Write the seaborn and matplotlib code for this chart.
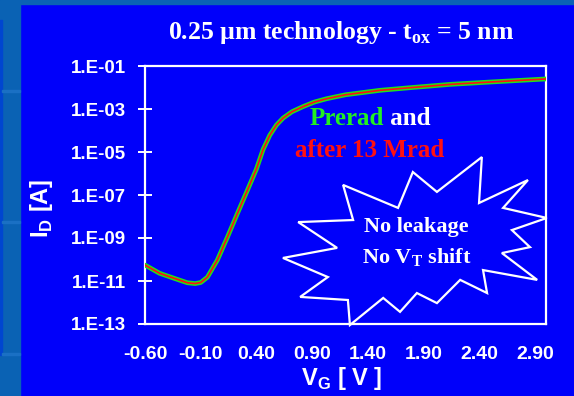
import matplotlib
matplotlib.use("Agg")
import matplotlib.pyplot as plt
import matplotlib.patches as mpatches
import seaborn as sns
import pandas as pd

# Data (gate voltage in V, drain current in A)
vg = [-0.60, -0.47, -0.35, -0.22, -0.15, -0.10, -0.04, 0.05, 0.14, 0.23, 0.32,
      0.40, 0.46, 0.52, 0.58, 0.64, 0.72, 0.82, 0.92, 1.03, 1.20, 1.51, 1.80,
      2.14, 2.50, 3.00]
id_prerad = [5.5e-11, 2.3e-11, 1.4e-11, 8.3e-12, 7.6e-12, 8.5e-12, 1.5e-11,
             9.5e-11, 1.1e-09, 1.4e-08, 1.7e-07, 1.6e-06, 1.3e-05, 6.0e-05,
             1.8e-04, 3.8e-04, 7.5e-04, 1.3e-03, 2.1e-03, 3.0e-03, 4.6e-03,
             7.4e-03, 1.0e-02, 1.4e-02, 1.8e-02, 2.5e-02]
id_postrad = [5.5e-11, 2.3e-11, 1.4e-11, 8.3e-12, 7.6e-12, 8.5e-12, 1.5e-11,
              9.5e-11, 1.1e-09, 1.4e-08, 1.7e-07, 1.6e-06, 1.3e-05, 6.0e-05,
              1.8e-04, 3.8e-04, 7.5e-04, 1.3e-03, 2.1e-03, 3.0e-03, 4.6e-03,
              7.4e-03, 1.0e-02, 1.4e-02, 1.8e-02, 2.5e-02]

x_ticks = [-0.60, -0.10, 0.40, 0.90, 1.40, 1.90, 2.40, 2.90]
y_ticks = [1e-13, 1e-11, 1e-09, 1e-07, 1e-05, 1e-03, 1e-01]
y_labels = ["1.E-13", "1.E-11", "1.E-09", "1.E-07", "1.E-05", "1.E-03", "1.E-01"]

# starburst callout outline (axes fraction)
burst = [(0.668, 0.589), (0.728, 0.512), (0.840, 0.647), (0.833, 0.469),
         (0.955, 0.558), (0.893, 0.450), (1.002, 0.411), (0.915, 0.364),
         (0.960, 0.298), (0.890, 0.275), (0.978, 0.171), (0.843, 0.209),
         (0.853, 0.120), (0.786, 0.171), (0.728, 0.081), (0.678, 0.120),
         (0.636, 0.047), (0.594, 0.101), (0.511, -0.004), (0.506, 0.093),
         (0.387, 0.105), (0.456, 0.182), (0.344, 0.256), (0.479, 0.295),
         (0.382, 0.395), (0.519, 0.403), (0.494, 0.539), (0.631, 0.450)]

BLUE = "#0000fa"
SANS = "Liberation Sans"
SERIF = "Liberation Serif"

sns.set_theme(style="ticks")
plt.rcParams["font.family"] = [SANS, "DejaVu Sans"]

df = pd.DataFrame({"VG": vg, "Prerad": id_prerad, "Postrad": id_postrad})

fig = plt.figure(figsize=(5.74, 3.96), dpi=100, facecolor=BLUE)

# slide border strips on the left and top
fig.patches.append(mpatches.Rectangle((0, 0), 20 / 574, 1, transform=fig.transFigure,
                                      color="#0a62b4", zorder=0))
fig.patches.append(mpatches.Rectangle((0, 1 - 4 / 396), 1, 4 / 396, transform=fig.transFigure,
                                      color="#0a62b4", zorder=0))
fig.patches.append(mpatches.Rectangle((0, 41 / 396), 2 / 574, 335 / 396, transform=fig.transFigure,
                                      color="#0046d0", zorder=0))
for yy in [92, 223, 355]:
    fig.patches.append(mpatches.Rectangle((2 / 574, 1 - yy / 396), 18 / 574, 2 / 396,
                                          transform=fig.transFigure, color="#1a70c4", zorder=0))

ax = fig.add_axes([145 / 574, 1 - 324 / 396, 401 / 574, 258 / 396])
ax.set_facecolor(BLUE)

sns.lineplot(data=df, x="VG", y="Prerad", ax=ax, color="#22e01a", lw=3.4, zorder=3)
sns.lineplot(data=df, x="VG", y="Postrad", ax=ax, color="#ff1010", lw=1.2, zorder=4)

ax.set_yscale("log")
ax.set_xlim(-0.6, 3.0)
ax.set_ylim(1e-13, 1e-1)
ax.set_xticks(x_ticks)
ax.set_xticklabels([f"{v:.2f}" for v in x_ticks])
ax.set_yticks(y_ticks)
ax.set_yticklabels(y_labels)
ax.yaxis.set_minor_locator(matplotlib.ticker.NullLocator())

for s in ax.spines.values():
    s.set_color("white")
    s.set_linewidth(1.6)
    s.set_visible(True)

ax.tick_params(axis="y", direction="inout", length=9.5, width=1.4, color="white",
               labelcolor="white", labelsize=13.5, pad=9)
ax.tick_params(axis="x", length=0, labelcolor="white", labelsize=14, pad=16)
for lab in ax.get_xticklabels() + ax.get_yticklabels():
    lab.set_fontweight("bold")

ax.set_xlabel(r"V$_\mathregular{G}$ [ V ]", color="white", fontsize=17, fontweight="bold")
ax.set_ylabel(r"I$_\mathregular{D}$ [A]", color="white", fontsize=17, fontweight="bold")
ax.xaxis.set_label_coords(0.491, -0.16)
ax.yaxis.set_label_coords(-0.224, 0.45)

fig.text(341 / 574, 1 - 33 / 396, r"0.25 µm technology - t$_\mathregular{ox}$ = 5 nm",
         color="white", fontsize=18.5, fontweight="bold", family=SERIF,
         ha="center", va="center")

# legend-like annotation
t1 = ax.text(0.41, 0.77, "Prerad", transform=ax.transAxes, color="#22f022",
             fontsize=18, fontweight="bold", family=SERIF, ha="left", va="baseline")
ax.annotate(" and", xy=(1, 0), xycoords=t1, color="white", fontsize=18,
            fontweight="bold", family=SERIF, ha="left", va="bottom")
ax.text(0.374, 0.648, "after 13 Mrad", transform=ax.transAxes, color="#ff1010",
        fontsize=18, fontweight="bold", family=SERIF, ha="left", va="baseline")

ax.add_patch(mpatches.Polygon(burst, closed=True, transform=ax.transAxes,
                              facecolor=BLUE, edgecolor="white", lw=1.6,
                              clip_on=False, zorder=5))
ax.text(0.677, 0.375, "No leakage", transform=ax.transAxes, color="white",
        fontsize=16, fontweight="bold", family=SERIF, ha="center", va="center", zorder=6)
ax.text(0.677, 0.258, r"No V$_\mathregular{T}$ shift", transform=ax.transAxes, color="white",
        fontsize=16, fontweight="bold", family=SERIF, ha="center", va="center", zorder=6)

fig.savefig("out.png", dpi=100, facecolor=BLUE)
